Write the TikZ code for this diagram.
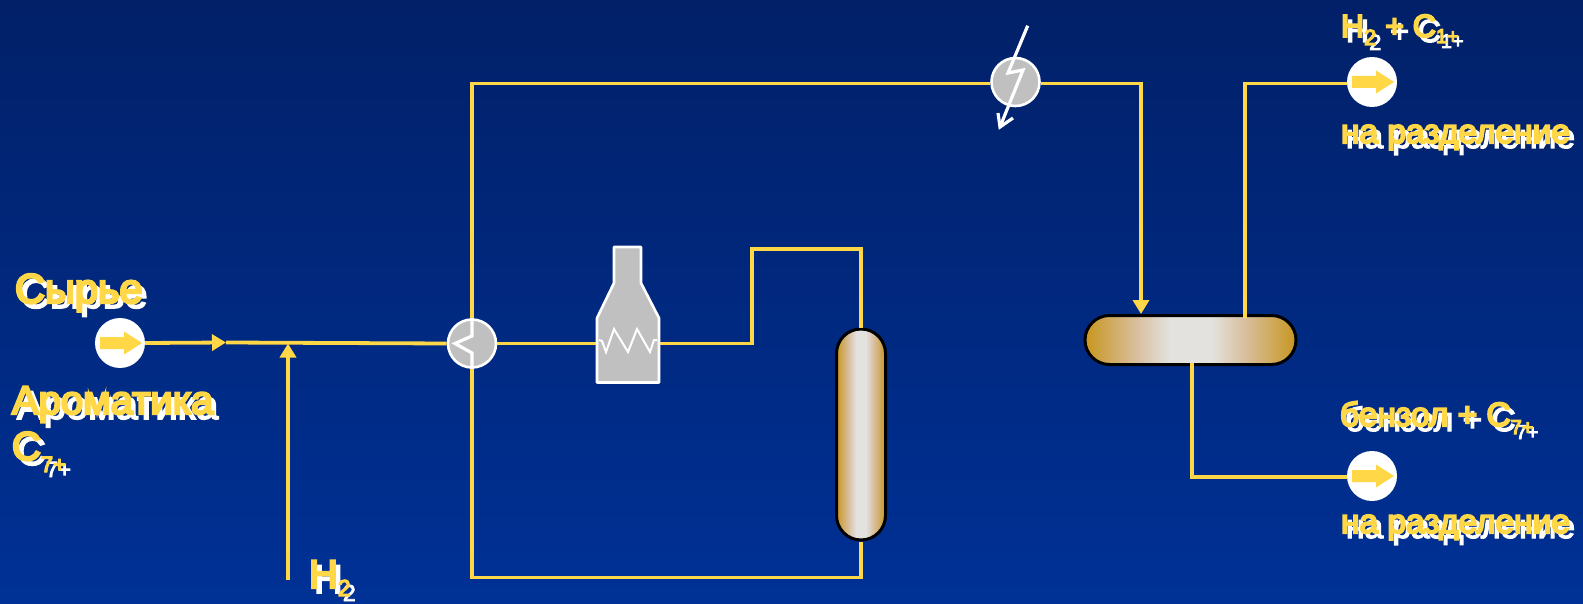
\documentclass[tikz,border=0pt]{standalone}
\usepackage{fontspec}
\setmainfont{Liberation Sans}
\newfontfamily\yfont[FakeBold=6]{Liberation Sans}
\newfontfamily\wfont[FakeBold=4]{Liberation Sans}
\usetikzlibrary{arrows.meta}
\definecolor{flowyellow}{HTML}{FFD747}
\definecolor{unitgray}{HTML}{C0C0C0}
\definecolor{bgtop}{HTML}{012068}
\definecolor{bgmid}{HTML}{002D88}
\definecolor{bgbot}{HTML}{003196}
\definecolor{vesselend}{HTML}{C8961F}
\definecolor{vesseltan}{HTML}{D8BE9C}
\definecolor{vessellight}{HTML}{E3E2DF}
\pgfdeclarehorizontalshading{vesselshade}{100bp}{
  color(0bp)=(vesselend);
  color(25bp)=(vesselend);
  color(37bp)=(vesseltan);
  color(45bp)=(vessellight);
  color(55bp)=(vessellight);
  color(63bp)=(vesseltan);
  color(75bp)=(vesselend);
  color(100bp)=(vesselend)}
\tikzset{
  flow/.style={draw=flowyellow,line width=3.8pt},
  flowtip/.style={flow,-{Triangle[width=16pt,length=14pt]}},
  portcirc/.style={circle,fill=white,minimum size=50pt,inner sep=0pt},
  unitcirc/.style={circle,draw=white,line width=2.6pt,fill=unitgray,minimum size=48pt,inner sep=0pt},
  vessel/.style={draw=black,line width=3pt,shading=vesselshade,rounded corners=24.5pt,inner sep=0pt},
  portarrow/.style={fill=flowyellow},
  whiteline/.style={draw=white,line width=3.2pt},
  lab/.style={anchor=base west,inner sep=0pt,outer sep=0pt}
}
\newcommand{\subdrop}[3]{\raisebox{-#1pt}{\fontsize{#2}{#2}\selectfont #3}}
\begin{document}
\begin{tikzpicture}[x=1pt,y=-1pt]
\useasboundingbox (0,0) rectangle (1583,604);
\shade[top color=bgtop,middle color=bgmid,bottom color=bgbot] (0,0) rectangle (1583,604);

% nodes
\node[portcirc] (feed) at (120,343) {};
\node[portcirc] (outa) at (1372,82) {};
\node[portcirc] (outb) at (1372,476) {};
\node[unitcirc] (exch) at (472,343.5) {};
\node[unitcirc] (cool) at (1015.5,82) {};
\node[vessel,minimum width=49pt,minimum height=211pt] (reac) at (861,434.5) {};
\node[vessel,minimum width=211pt,minimum height=49pt] (sepr) at (1190.5,340) {};
\coordinate (furnin) at (597,343.5);
\coordinate (furnout) at (659,343.5);
\coordinate (junc) at (226,342.5);
\coordinate (hstart) at (288,580);
\coordinate (htip) at (288,343.5);
\coordinate (sepin) at (1141,314);
\coordinate (sepoutt) at (1245,318);
\coordinate (sepoutb) at (1192,363);
\coordinate (riseA) at (752,343.5);
\coordinate (riseB) at (752,249);
\coordinate (riseC) at (861,249);
\coordinate (topleft) at (472,83.5);
\coordinate (botleft) at (472,577.5);
\coordinate (botright) at (861,577.5);
\coordinate (boltstart) at (1027.7,25.7);
\coordinate (bolttip) at (1000,127);

% connectors
\draw[flowtip] (feed.east) -- (junc);
\draw[flow] (junc) -- (exch.west);
\draw[flowtip] (hstart) -- (htip);
\draw[flow] (exch.east) -- (furnin);
\draw[flow,line join=miter] (furnout) -- (riseA) -- (riseB) -- (riseC) -- (reac.north);
\draw[flow,line join=miter] (reac.south) -- (botright) -- (botleft) -- (exch.south);
\draw[flow,line join=miter] (exch.north) -- (topleft) -- ([yshift=-1.5pt]cool.west);
\draw[flowtip] ([yshift=-1.5pt]cool.east) -| (sepin);
\draw[flow] (sepoutt) |- ([yshift=-1.5pt]outa.west);
\draw[flow] (sepoutb) |- ([yshift=-1pt]outb.west);

% furnace
\draw[draw=white,line width=2.6pt,fill=unitgray,line join=round]
  (597,382.5) -- (597,318) -- (614,283) -- (614,247) -- (641,247) -- (641,283) -- (659,318) -- (659,382.5) -- cycle;
\draw[draw=white,line width=2pt,line join=miter]
  (599,340) -- (602,341) -- (606,352) -- (614,329) -- (628,352) -- (637,329) -- (650,352) -- (654,340) -- (657,340);

% exchanger coil
\draw[whiteline,line join=miter] (exch.north) -- (472,336) -- (455,343.5) -- (472,353) -- (exch.south);

% cooler bolt
\draw[whiteline,line join=miter] (boltstart) -- (1008,73) -- (1023,70) -- (bolttip);
\draw[whiteline,line join=miter] (998,113) -- (bolttip) -- (1013,118);

% port arrows
\foreach \cx/\cy in {120/343,1372/82,1372/476}{
  \fill[portarrow] (\cx-20,\cy-6) -- (\cx+4,\cy-6) -- (\cx+4,\cy-11.5) -- (\cx+22,\cy) -- (\cx+4,\cy+11.5) -- (\cx+4,\cy+6) -- (\cx-20,\cy+6) -- cycle;
}

% labels: white shadow first, yellow on top
\newcommand{\dbl}[5]{%
  \node[lab,text=white] (#1w) at (#2+5,#3+5) {\wfont\fontsize{#4}{#4}\selectfont #5};
  \node[lab,text=flowyellow] (#1y) at (#2,#3) {\yfont\fontsize{#4}{#4}\selectfont #5};
}
\dbl{feedlab}{15}{303}{41.5}{Сырье}
\dbl{arolab}{12}{414}{40}{Ароматика}
\dbl{cseven}{12}{460}{40}{C\subdrop{12}{22}{7+}}
\dbl{hlab}{309}{588}{40}{H\subdrop{8}{23}{2}}
\dbl{toplab}{1341}{37}{32}{H\subdrop{8}{22}{2} + C\subdrop{6}{20}{1+}}
\dbl{sepa}{1341}{143}{33.5}{на разделение}
\dbl{benz}{1340}{426}{33.5}{бензол + C\subdrop{8}{20}{7+}}
\dbl{sepb}{1341}{533}{33.5}{на разделение}
\end{tikzpicture}
\end{document}
